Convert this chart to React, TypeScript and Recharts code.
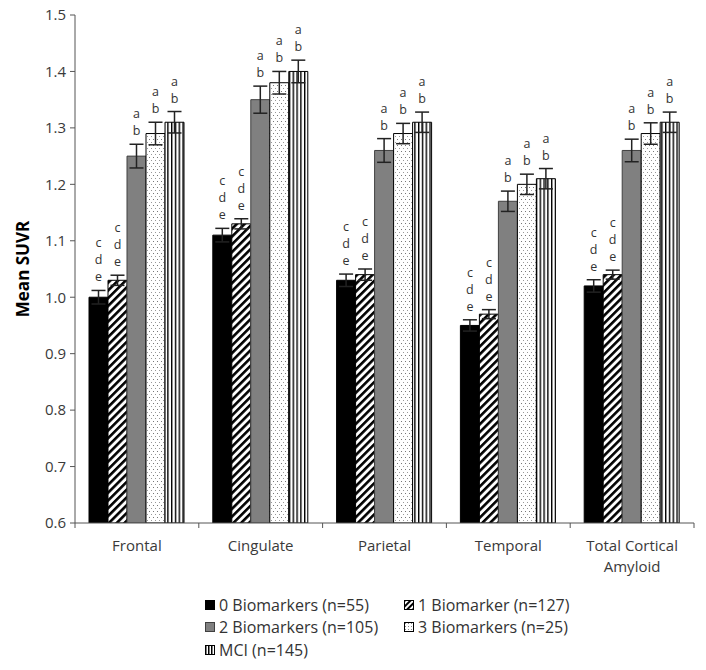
import { Bar, BarChart, ErrorBar, LabelList, XAxis, YAxis } from 'recharts';

const categories = ['Frontal', 'Cingulate', 'Parietal', 'Temporal', 'Total Cortical Amyloid'];

const zeroBio = [1.0, 1.11, 1.03, 0.95, 1.02];
const zeroBioErr = [0.012, 0.012, 0.011, 0.01, 0.011];
const oneBio = [1.03, 1.13, 1.04, 0.97, 1.04];
const oneBioErr = [0.009, 0.009, 0.01, 0.008, 0.008];
const twoBio = [1.25, 1.35, 1.26, 1.17, 1.26];
const twoBioErr = [0.021, 0.024, 0.021, 0.018, 0.02];
const threeBio = [1.29, 1.38, 1.29, 1.2, 1.29];
const threeBioErr = [0.02, 0.02, 0.018, 0.018, 0.019];
const mci = [1.31, 1.4, 1.31, 1.21, 1.31];
const mciErr = [0.019, 0.02, 0.018, 0.018, 0.018];

const yTicks = [0.6, 0.7, 0.8, 0.9, 1.0, 1.1, 1.2, 1.3, 1.4, 1.5];

const W = 706;
const H = 670;
const PLOT_LEFT = 75;
const PLOT_TOP = 15;
const PLOT_W = 619;
const PLOT_H = 508;
const PX_PER_UNIT = PLOT_H / (1.5 - 0.6);
const FONT = '"Open Sans", sans-serif';
const TEXT = '#3a3a3a';

const series = [
  { key: 'b0', name: '0 Biomarkers (n=55)', vals: zeroBio, err: zeroBioErr, fill: '#000000', stroke: '#000000', letters: ['c', 'd', 'e'] },
  { key: 'b1', name: '1 Biomarker (n=127)', vals: oneBio, err: oneBioErr, fill: 'url(#diag)', stroke: '#000000', letters: ['c', 'd', 'e'] },
  { key: 'b2', name: '2 Biomarkers (n=105)', vals: twoBio, err: twoBioErr, fill: '#808080', stroke: '#404040', letters: ['a', 'b'] },
  { key: 'b3', name: '3 Biomarkers (n=25)', vals: threeBio, err: threeBioErr, fill: 'url(#dots)', stroke: '#000000', letters: ['a', 'b'] },
  { key: 'mci', name: 'MCI (n=145)', vals: mci, err: mciErr, fill: 'url(#vert)', stroke: '#000000', letters: ['a', 'b'] },
];

const data = categories.map((c, i) => {
  const row: Record<string, string | number> = { name: c };
  series.forEach((s) => {
    row[s.key] = s.vals[i];
    row[s.key + 'Err'] = s.err[i];
  });
  return row;
});

function lettersLabel(s: (typeof series)[number]) {
  return (props: any) => {
    const { x, y, width, index } = props;
    const cx = Number(x) + Number(width) / 2;
    const top = Number(y) - s.err[index] * PX_PER_UNIT;
    const n = s.letters.length;
    return (
      <g>
        {s.letters.map((l, k) => (
          <text
            key={k}
            x={cx}
            y={top - 9 - (n - 1 - k) * 17}
            textAnchor="middle"
            fontSize={12.5}
            fontFamily={FONT}
            fill="#333"
          >
            {l}
          </text>
        ))}
      </g>
    );
  };
}

const band = PLOT_W / categories.length;

function XTick(props: any) {
  const { x, payload, index } = props;
  const axisY = PLOT_TOP + PLOT_H;
  const words = String(payload.value) === 'Total Cortical Amyloid' ? ['Total Cortical', 'Amyloid'] : [String(payload.value)];
  return (
    <g>
      <line x1={x - band / 2} x2={x - band / 2} y1={axisY} y2={axisY + 5} stroke="#555" />
      {index === categories.length - 1 && (
        <line x1={x + band / 2} x2={x + band / 2} y1={axisY} y2={axisY + 5} stroke="#555" />
      )}
      {words.map((w, k) => (
        <text key={k} x={x} y={axisY + 28 + k * 21} textAnchor="middle" fontSize={15} fontFamily={FONT} fill={TEXT}>
          {w}
        </text>
      ))}
    </g>
  );
}

function LegendBox({ s }: { s: (typeof series)[number] }) {
  return (
    <svg width={10} height={10} style={{ marginRight: 4, flexShrink: 0 }}>
      <rect x={0.5} y={0.5} width={9} height={9} fill={s.fill.replace('url(#', 'url(#lg-')} stroke={s.stroke} />
    </svg>
  );
}

export default function App() {
  const legendPos = [
    { left: 205, top: 605 },
    { left: 404, top: 605 },
    { left: 205, top: 627 },
    { left: 404, top: 627 },
    { left: 205, top: 650 },
  ];
  return (
    <div style={{ margin: -8, position: 'relative', width: W, height: H, background: '#fff' }}>
      <svg width={0} height={0} style={{ position: 'absolute' }}>
        <defs>
          <pattern id="lg-diag" patternUnits="userSpaceOnUse" width={4} height={4} patternTransform="rotate(45)">
            <rect width={4} height={4} fill="#fff" />
            <rect width={2} height={4} fill="#000" />
          </pattern>
          <pattern id="lg-dots" patternUnits="userSpaceOnUse" width={3} height={3}>
            <rect width={3} height={3} fill="#fff" />
            <rect x={1} y={1} width={1} height={1} fill="#888" />
          </pattern>
          <pattern id="lg-vert" patternUnits="userSpaceOnUse" width={3} height={3}>
            <rect width={3} height={3} fill="#fff" />
            <rect width={1.5} height={3} fill="#000" />
          </pattern>
        </defs>
      </svg>
      <BarChart
        width={W}
        height={H}
        data={data}
        margin={{ top: PLOT_TOP, right: W - PLOT_LEFT - PLOT_W, left: 0, bottom: H - PLOT_TOP - PLOT_H - 60 }}
        barCategoryGap={14}
        barGap={0}
      >
        <defs>
          <pattern id="diag" patternUnits="userSpaceOnUse" width={5.5} height={5.5} patternTransform="rotate(45)">
            <rect width={5.5} height={5.5} fill="#fff" />
            <rect width={2.6} height={5.5} fill="#000" />
          </pattern>
          <pattern id="dots" patternUnits="userSpaceOnUse" width={4} height={6}>
            <rect width={4} height={6} fill="#fff" />
            <rect x={1} y={1} width={1} height={1} fill="#777" />
            <rect x={3} y={4} width={1} height={1} fill="#999" />
          </pattern>
          <pattern id="vert" patternUnits="userSpaceOnUse" width={3.8} height={10}>
            <rect width={3.8} height={10} fill="#fff" />
            <rect width={1.4} height={10} fill="#000" />
          </pattern>
        </defs>
        <XAxis
          dataKey="name"
          height={60}
          stroke="#555"
          tickLine={false}
          interval={0}
          tick={<XTick />}
        />
        <YAxis
          width={PLOT_LEFT}
          domain={[0.6, 1.5]}
          ticks={yTicks}
          allowDataOverflow
          stroke="#555"
          tickSize={5}
          tickMargin={4}
          tickFormatter={(v: number) => v.toFixed(1)}
          tick={{ fontSize: 15, fontFamily: FONT, fill: TEXT }}
          label={{
            content: (p: any) => {
              const vb = p.viewBox || { x: 0, y: PLOT_TOP, height: PLOT_H };
              const cy = vb.y + vb.height / 2;
              return (
                <text
                  x={22}
                  y={cy}
                  transform={`rotate(-90, 22, ${cy})`}
                  textAnchor="middle"
                  dominantBaseline="central"
                  fontSize={17}
                  fontWeight="bold"
                  fontFamily={FONT}
                  fill="#000"
                >
                  Mean SUVR
                </text>
              );
            },
          }}
        />
        {series.map((s) => (
          <Bar key={s.key} dataKey={s.key} name={s.name} fill={s.fill} stroke={s.stroke} strokeWidth={1} isAnimationActive={false}>
            <ErrorBar dataKey={s.key + 'Err'} width={7} stroke="#222" strokeWidth={1.5} />
            <LabelList dataKey={s.key} content={lettersLabel(s)} />
          </Bar>
        ))}
      </BarChart>
      {series.map((s, i) => (
        <div
          key={s.key}
          style={{
            position: 'absolute',
            left: legendPos[i].left,
            top: legendPos[i].top - 11,
            height: 22,
            display: 'flex',
            alignItems: 'center',
            fontFamily: FONT,
            fontSize: 16,
            color: '#333',
            whiteSpace: 'nowrap',
          }}
        >
          <LegendBox s={s} />
          {s.name}
        </div>
      ))}
    </div>
  );
}
